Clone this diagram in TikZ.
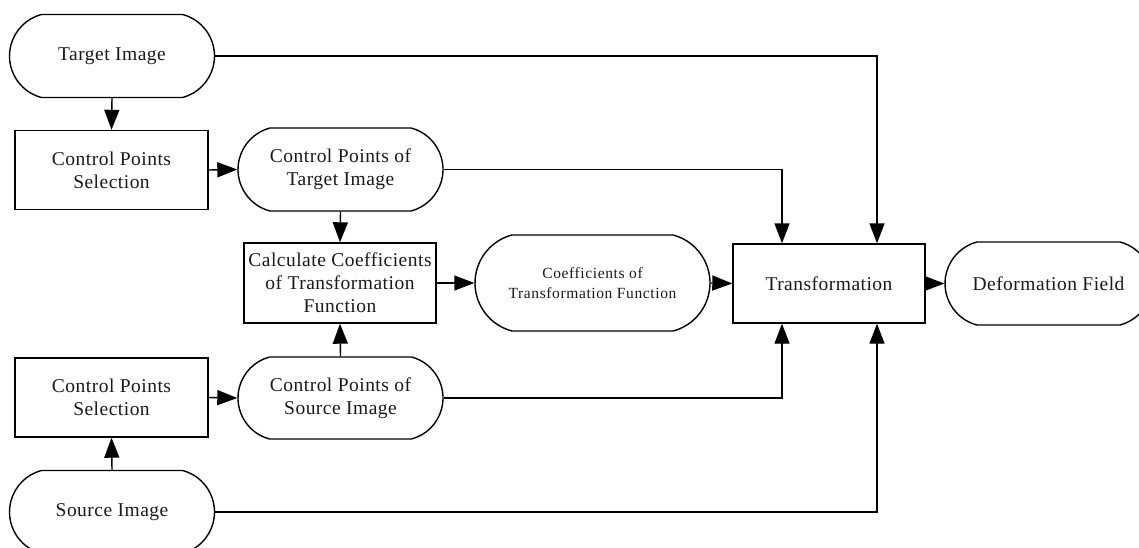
\documentclass[tikz,border=0pt]{standalone}
\usepackage{fontspec}
\setmainfont[LetterSpace=2.5]{Liberation Serif}
\newfontfamily\smallserif[LetterSpace=4]{Liberation Serif}
\usetikzlibrary{shapes.misc,arrows.meta}
\tikzset{
  base/.style={draw=black, line width=1.4pt, align=center, inner sep=0pt,
    font=\fontsize{19.5pt}{23pt}\selectfont, text=black!90},
  term/.style={base, rounded rectangle, rounded rectangle arc length=150,
    minimum width=205pt, minimum height=83pt},
  proc/.style={base, rectangle, minimum width=193pt, minimum height=79pt},
  conn/.style={line width=1.4pt, -{Triangle[length=20pt,width=15pt]}},
  plain/.style={line width=1.4pt}
}
\begin{document}
\begin{tikzpicture}[x=1pt,y=-1pt]
\useasboundingbox (0,0) rectangle (1139,548);
\clip (0,0) rectangle (1139,548);
\node[term] (ti) at (112,56) {Target Image};
\node[proc] (cps1) at (111.5,170) {Control Points\\Selection};
\node[term] (cpt) at (340.5,169.5) {Control Points of\\Target Image};
\node[proc, minimum width=192pt, minimum height=80pt] (cc) at (340,283) {Calculate Coefficients\\of Transformation\\Function};
\node[term, minimum width=235pt, minimum height=96pt, font=\smallserif\fontsize{15.5pt}{20pt}\selectfont] (coef) at (592.5,283) {Coefficients of\\Transformation Function};
\node[proc, minimum width=192pt] (tr) at (829,283.5) {Transformation};
\node[term, minimum width=207pt] (df) at (1048.5,283.5) {Deformation Field};
\node[proc] (cps2) at (111.5,397.5) {Control Points\\Selection};
\node[term, minimum height=82pt] (cps) at (340.5,398) {Control Points of\\Source Image};
\node[term] (si) at (112,512) {Source Image};

\coordinate (trnl) at ([xshift=-47pt]tr.north);
\coordinate (trnr) at ([xshift=48pt]tr.north);
\coordinate (trsl) at ([xshift=-47pt]tr.south);
\coordinate (trsr) at ([xshift=48pt]tr.south);

\draw[conn] (ti.south) -- (cps1.north);
\draw[conn] (cps1.east) -- (cpt.west);
\draw[conn] (cpt.south) -- (cc.north);
\draw[conn] (cps.north) -- (cc.south);
\draw[conn] (cc.east) -- (coef.west);
\draw[conn] (coef.east) -- (tr.west);
\draw[conn] (tr.east) -- (df.west);
\draw[conn] (si.north) -- (cps2.south);
\draw[conn] (cps2.east) -- (cps.west);
\draw[conn] (ti.east) -| (trnr);
\draw[conn] (cpt.east) -| (trnl);
\draw[conn] (cps.east) -| (trsl);
\draw[conn] (si.east) -| (trsr);
\end{tikzpicture}
\end{document}
